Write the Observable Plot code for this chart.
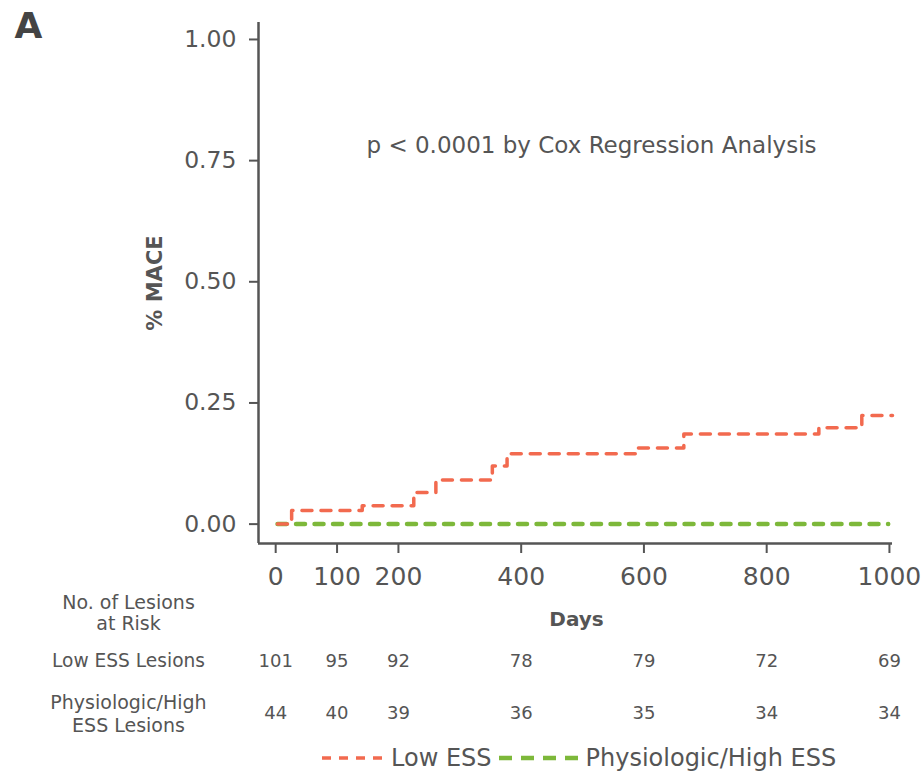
<!DOCTYPE html>
<html>
<head>
<meta charset="utf-8">
<script src="https://cdn.jsdelivr.net/npm/d3@7"></script>
<script src="https://cdn.jsdelivr.net/npm/@observablehq/plot@0.6"></script>
<style>
  body { margin: 0; background: #fff; }
  #wrap { position: relative; width: 922px; height: 777px; font-family: "DejaVu Sans", sans-serif; }
  #legend { position: absolute; left: 322px; top: 743px; display: flex; align-items: center; font-size: 24px; color: #555; white-space: nowrap; line-height: 30px; }
  #legend svg { display: block; }
</style>
</head>
<body>
<div id="wrap"><div id="chart"></div><div id="legend"></div></div>
<script>
// Kaplan-Meier style cumulative MACE
const lowDays   = [3, 26, 141, 225, 261, 353, 377, 586, 665, 885, 955, 1005];
const lowMace   = [0, 0.028, 0.038, 0.065, 0.091, 0.12, 0.145, 0.157, 0.186, 0.199, 0.224, 0.224];
const highDays  = [3, 998];
const highMace  = [0, 0];

// Numbers at risk
const riskDays  = [0, 100, 200, 400, 600, 800, 1000];
const riskLow   = [101, 95, 92, 78, 79, 72, 69];
const riskHigh  = [44, 40, 39, 36, 35, 34, 34];

const seriesNames  = ["Low ESS", "Physiologic/High ESS"];
const seriesColors = ["#f26a4f", "#7db83a"];
const yTicks = [0, 0.25, 0.5, 0.75, 1];
const xTicks = [0, 100, 200, 400, 600, 800, 1000];

const lowData  = lowDays.map((d, i) => ({day: d, mace: lowMace[i]}));
const highData = highDays.map((d, i) => ({day: d, mace: highMace[i]}));
const lowRisk  = riskDays.map((d, i) => ({day: d, n: riskLow[i]}));
const highRisk = riskDays.map((d, i) => ({day: d, n: riskHigh[i]}));

const axisColor = "#555";
const textColor = "#555";

const plot = Plot.plot({
  width: 922,
  height: 777,
  marginLeft: 258,
  marginRight: 30,
  marginTop: 22,
  marginBottom: 234,
  style: {fontFamily: "'DejaVu Sans', sans-serif", color: textColor, background: "#fff"},
  x: {domain: [-28, 1005]},
  y: {domain: [-0.04, 1.035]},
  marks: [
    Plot.axisY({ticks: yTicks, tickFormat: d3.format(".2f"), tickSize: 9, tickPadding: 13, fontSize: 23.5, stroke: axisColor, strokeWidth: 2, label: null, color: textColor}),
    Plot.axisX({ticks: xTicks, tickFormat: d => String(d), tickSize: 10, tickPadding: 14, fontSize: 25, stroke: axisColor, strokeWidth: 2, label: null, color: textColor}),
    Plot.ruleX([-28], {stroke: axisColor, strokeWidth: 2.5}),
    Plot.ruleY([-0.04], {stroke: axisColor, strokeWidth: 2.5}),
    Plot.line(highData, {x: "day", y: "mace", curve: "step-after", stroke: seriesColors[1], strokeWidth: 4.5, strokeDasharray: "9,9.5"}),
    Plot.line(lowData, {x: "day", y: "mace", curve: "step-after", stroke: seriesColors[0], strokeWidth: 3.5, strokeDasharray: "10,9"}),
    // panel letter
    Plot.text(["A"], {frameAnchor: "top-left", dx: -244, dy: 4, textAnchor: "start", lineAnchor: "middle", fontSize: 36, fontWeight: 600, fill: "#444"}),
    // y label
    Plot.text(["% MACE"], {frameAnchor: "left", dx: -103, rotate: -90, textAnchor: "middle", lineAnchor: "middle", fontSize: 21, fontWeight: "bold", fill: textColor}),
    // annotation
    Plot.text(["p < 0.0001 by Cox Regression Analysis"], {frameAnchor: "top", dx: 16, dy: 123, lineAnchor: "middle", fontSize: 23, fill: textColor}),
    // x label
    Plot.text(["Days"], {frameAnchor: "bottom", dx: 1, dy: 76, lineAnchor: "middle", fontSize: 20, fontWeight: "bold", fill: textColor}),
    // risk table labels
    Plot.text(["No. of Lesions\nat Risk"], {frameAnchor: "bottom-left", dx: -130, dy: 69, textAnchor: "middle", lineAnchor: "middle", lineHeight: 1.15, fontSize: 19, fill: textColor}),
    Plot.text(["Low ESS Lesions"], {frameAnchor: "bottom-left", dx: -130, dy: 118, textAnchor: "middle", lineAnchor: "middle", fontSize: 18.6, fill: textColor}),
    Plot.text(["Physiologic/High\nESS Lesions"], {frameAnchor: "bottom-left", dx: -130, dy: 170, textAnchor: "middle", lineAnchor: "middle", lineHeight: 1.2, fontSize: 19, fill: textColor}),
    // risk table numbers
    Plot.text(lowRisk, {x: "day", text: "n", frameAnchor: "bottom", dy: 118, lineAnchor: "middle", fontSize: 18, fill: textColor}),
    Plot.text(highRisk, {x: "day", text: "n", frameAnchor: "bottom", dy: 170, lineAnchor: "middle", fontSize: 18, fill: textColor})
  ]
});
document.getElementById("chart").appendChild(plot);

// legend
const legend = document.getElementById("legend");
const swatchW = [61, 79];
const swatchDash = ["9,8", "13,9"];
const swatchGap = [0, 7];
seriesNames.forEach((name, i) => {
  const item = document.createElement("div");
  item.style.display = "flex";
  item.style.alignItems = "center";
  item.style.marginLeft = swatchGap[i] + "px";
  const w = swatchW[i];
  item.innerHTML = `<svg width="${w}" height="12"><line x1="0" y1="6" x2="${w}" y2="6" stroke="${seriesColors[i]}" stroke-width="${i === 0 ? 3.5 : 4.5}" stroke-dasharray="${swatchDash[i]}"/></svg><span style="margin-left:8px">${name}</span>`;
  legend.appendChild(item);
});
</script>
</body>
</html>
